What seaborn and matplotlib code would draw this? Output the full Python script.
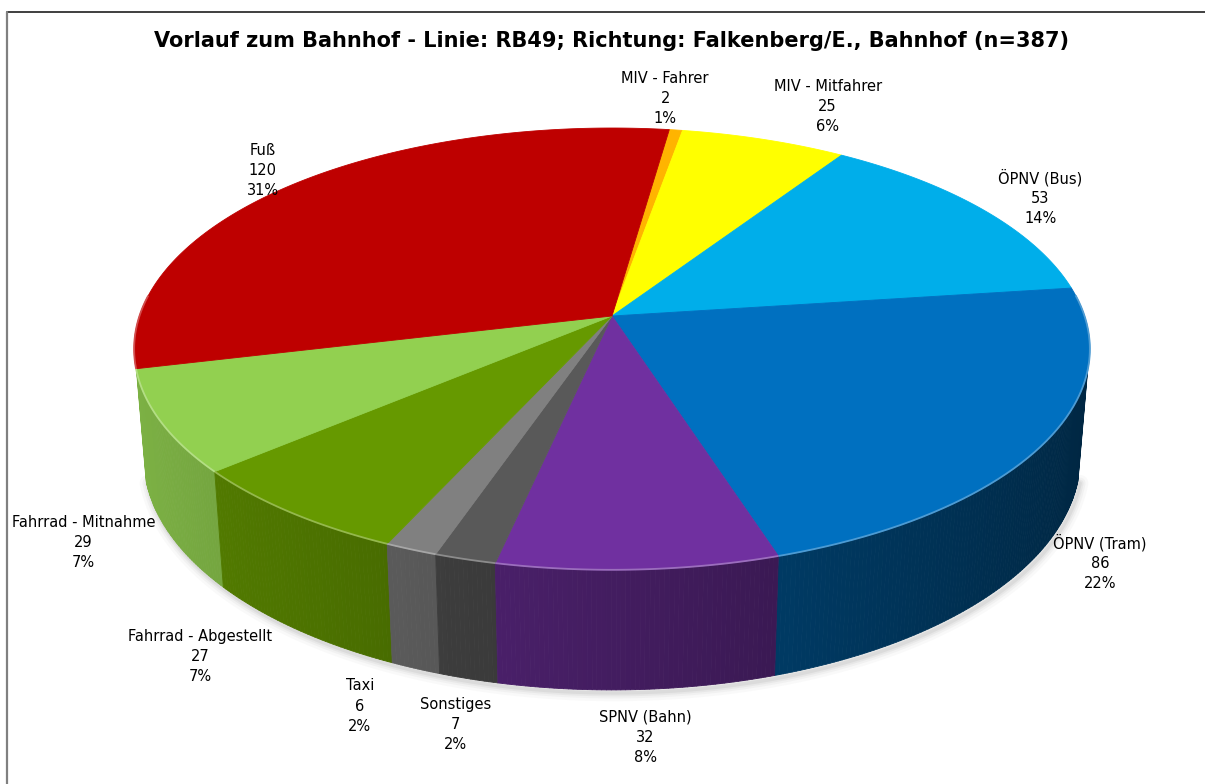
import numpy as np
import matplotlib
matplotlib.use("Agg")
import matplotlib.pyplot as plt
from matplotlib.collections import PolyCollection
from matplotlib.patches import Polygon
import seaborn as sns

# --- data -------------------------------------------------------------
categories = ["MIV - Fahrer", "MIV - Mitfahrer", "ÖPNV (Bus)", "ÖPNV (Tram)",
              "SPNV (Bahn)", "Sonstiges", "Taxi", "Fahrrad - Abgestellt",
              "Fahrrad - Mitnahme", "Fuß"]
counts = [2, 25, 53, 86, 32, 7, 6, 27, 29, 120]
slice_colors = ["#FFB400", "#FFFF00", "#00AEEA", "#0070C0", "#7030A0",
                "#595959", "#808080", "#669900", "#92D050", "#BE0000"]
title = "Vorlauf zum Bahnhof - Linie: RB49; Richtung: Falkenberg/E., Bahnhof (n=387)"

# small screen-space nudges (px) that keep the data labels apart
label_nudge = [(-19, -8), (44, -10), (7, 3), (-6, -15), (3, 0),
               (13, 0), (-21, -6), (-43, -9), (-15, -10), (12, 4)]

sns.set_theme(style="white")
plt.rcParams["font.family"] = ["DejaVu Sans"]
palette = sns.color_palette(slice_colors)

W, H = 1205, 784
fig = plt.figure(figsize=(W / 100, H / 100), dpi=100)
ax = fig.add_axes([0, 0, 1, 1])
ax.set_xlim(0, W)
ax.set_ylim(H, 0)
ax.axis("off")

# --- perspective camera for the 3-D pie -------------------------------
CX, CY = 612.0, 316.0      # screen position of the pie centre
SCALE = 2821.0
DIST = 5.97                # camera distance (pie radius = 1)
ELEV = np.radians(27.2)    # camera elevation
THICK = 0.261              # pie thickness
START = np.radians(8.0)    # first slice edge, clockwise from the back
VIS = -0.24                # outer wall is shown where cos(angle) is below this


def project(theta, r=1.0, y=0.0):
    xw = r * np.sin(theta)
    zw = -r * np.cos(theta)
    depth = DIST - y * np.sin(ELEV) - zw * np.cos(ELEV)
    px = CX + SCALE * xw / depth
    py = CY - SCALE * (y * np.cos(ELEV) - zw * np.sin(ELEV)) / depth
    return px, py, depth


vals = np.array(counts, dtype=float)
total = vals.sum()
edges = START + 2 * np.pi * np.concatenate([[0], np.cumsum(vals)]) / total


def shade(rgb, f):
    return tuple(np.clip(np.array(rgb) * f, 0, 1))


def tint(rgb, f):
    rgb = np.array(rgb)
    return tuple(rgb + (1 - rgb) * f)


# soft shadow around the lower rim
tt = np.linspace(np.arccos(VIS), 2 * np.pi - np.arccos(VIS), 300)
bx, by, _ = project(tt, 1.0, -THICK)
for lw, a in [(12, 0.03), (8, 0.045), (5, 0.06), (2.5, 0.08)]:
    ax.plot(bx + 2, by + 3, color="#555555", lw=lw, alpha=a,
            solid_capstyle="round", zorder=1)

# outer walls (only the part facing the camera), drawn back to front
quads, qcols, qdepth = [], [], []
for i, (a0, a1) in enumerate(zip(edges[:-1], edges[1:])):
    n = max(2, int(np.degrees(a1 - a0) * 2))
    ts = np.linspace(a0, a1, n + 1)
    for t0, t1 in zip(ts[:-1], ts[1:]):
        tm = 0.5 * (t0 + t1)
        if np.cos(tm) > VIS:
            continue
        x0, y0, _ = project(t0)
        x1, y1, _ = project(t1)
        x2, y2, _ = project(t1, 1.0, -THICK)
        x3, y3, _ = project(t0, 1.0, -THICK)
        _, _, d = project(tm, 1.0, -THICK / 2)
        quads.append([(x0, y0), (x1, y1), (x2, y2), (x3, y3)])
        f = 0.6 + 0.26 * (-np.sin(tm))
        qcols.append(shade(palette[i], f))
        qdepth.append(d)
order = np.argsort(qdepth)[::-1]
wall = PolyCollection([quads[k] for k in order],
                      facecolors=[qcols[k] for k in order],
                      edgecolors=[qcols[k] for k in order],
                      linewidths=0.6, zorder=2)
ax.add_collection(wall)

# top faces
for i, (a0, a1) in enumerate(zip(edges[:-1], edges[1:])):
    ts = np.linspace(a0, a1, max(3, int(np.degrees(a1 - a0) * 2)))
    px, py, _ = project(ts)
    pts = np.column_stack([np.r_[CX, px], np.r_[CY, py]])
    ax.add_patch(Polygon(pts, closed=True, facecolor=palette[i],
                         edgecolor=palette[i], lw=0.6, zorder=3))
    front = np.cos(ts) < 0.1
    if front.any():
        ax.plot(px[front], py[front], color=tint(palette[i], 0.3), lw=1.3,
                zorder=4, solid_capstyle="butt")

# data labels
for i, (a0, a1) in enumerate(zip(edges[:-1], edges[1:])):
    tm = 0.5 * (a0 + a1)
    yl = -THICK if np.cos(tm) < 0 else 0.0
    lx, ly, _ = project(tm, 1.15, yl)
    dx, dy = label_nudge[i]
    pct = int(round(100 * counts[i] / total))
    ax.text(lx + dx, ly + dy, f"{categories[i]}\n{counts[i]}\n{pct}%",
            ha="center", va="center", fontsize=10.5, linespacing=1.42,
            color="black", zorder=5)

ax.text(612, 41, title, ha="center", va="center", fontsize=15.0,
        fontweight="bold", color="black", zorder=5)

# chart frame
ax.plot([7, W], [12, 12], color="#303030", lw=1.3, zorder=6)
ax.plot([7, 7], [12, H], color="#808080", lw=1.6, zorder=6)

fig.savefig("out.png", dpi=100)
